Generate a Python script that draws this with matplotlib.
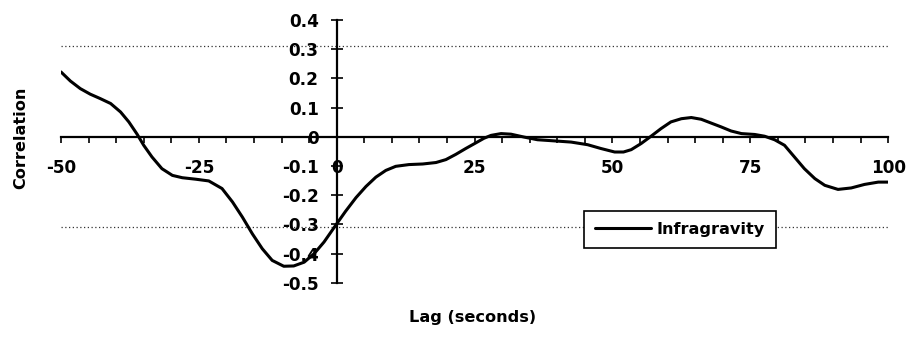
import numpy as np
import matplotlib.pyplot as plt
from matplotlib.ticker import MultipleLocator

plt.rcParams['axes.unicode_minus'] = False

# lag (s) and correlation
lag = [-50, -48.3, -46.5, -44.7, -42.9, -41.0, -39.2, -37.7, -36.2, -35.0, -33.5,
       -31.7, -29.8, -28.0, -25.6, -23.2, -20.8, -18.9, -17.1, -15.3, -13.5, -11.7,
       -9.6, -7.8, -5.9, -4.1, -2.3, -0.2, 1.6, 3.5, 5.3, 7.1, 8.9, 10.7, 13.1,
       15.6, 18.0, 19.8, 21.6, 23.4, 25.2, 26.7, 28.0, 29.8, 31.6, 34.0, 36.4,
       39.5, 42.5, 45.5, 47.9, 50.4, 52.0, 53.4, 55.2, 57.0, 58.8, 60.6, 62.5,
       64.3, 66.1, 67.9, 69.7, 71.5, 73.4, 75.8, 77.6, 79.4, 81.2, 83.0, 84.8,
       86.7, 88.5, 90.9, 93.3, 95.7, 98.2, 100]
corr = [0.222, 0.191, 0.165, 0.146, 0.131, 0.114, 0.085, 0.051, 0.009, -0.029,
        -0.069, -0.109, -0.132, -0.140, -0.145, -0.151, -0.177, -0.223, -0.275,
        -0.332, -0.383, -0.423, -0.443, -0.442, -0.429, -0.400, -0.360, -0.303,
        -0.255, -0.208, -0.170, -0.138, -0.115, -0.101, -0.095, -0.093, -0.088,
        -0.078, -0.060, -0.040, -0.021, -0.005, 0.005, 0.011, 0.009, -0.001,
        -0.010, -0.014, -0.018, -0.027, -0.040, -0.052, -0.052, -0.044, -0.023,
        0.002, 0.028, 0.051, 0.062, 0.066, 0.060, 0.047, 0.034, 0.020, 0.011,
        0.008, 0.002, -0.010, -0.029, -0.069, -0.109, -0.143, -0.166, -0.180,
        -0.175, -0.163, -0.155, -0.155]
sig_level = 0.31
ytick_vals = [-0.5, -0.4, -0.3, -0.2, -0.1, 0, 0.1, 0.2, 0.3, 0.4]
ytick_text = ['-0.5', '-0.4', '-0.3', '-0.2', '-0.1', '0', '0.1', '0.2', '0.3', '0.4']

fig = plt.figure(figsize=(9.09, 3.38), dpi=100)
ax = fig.add_axes([0.0671, 0.163, 0.910, 0.778])

ax.plot(lag, corr, color='black', lw=2.2, label='Infragravity', zorder=3,
        solid_joinstyle='round', solid_capstyle='round')
for s in (sig_level, -sig_level):
    ax.axhline(s, color='#333333', lw=0.9, ls=(0, (1, 2)), zorder=1)

ax.set_xlim(-50, 100)
ax.set_ylim(-0.5, 0.4)

# spines crossing at zero
ax.spines['top'].set_visible(False)
ax.spines['right'].set_visible(False)
ax.spines['left'].set_position(('data', 0))
ax.spines['bottom'].set_position(('data', 0))
ax.spines['left'].set_linewidth(1.6)
ax.spines['bottom'].set_linewidth(1.6)

ax.xaxis.set_major_locator(MultipleLocator(25))
ax.xaxis.set_minor_locator(MultipleLocator(5))
ax.set_yticks(ytick_vals)
ax.set_yticklabels(ytick_text)

ax.tick_params(axis='x', which='both', direction='out', length=4, width=1.2,
               pad=12, labelsize=12.2)
ax.tick_params(axis='y', which='major', direction='inout', length=8, width=1.2,
               pad=9, labelsize=12.2)
for lbl in ax.get_xticklabels() + ax.get_yticklabels():
    lbl.set_fontweight('bold')

ax.set_xlabel('Lag (seconds)', fontsize=11.6, fontweight='bold')
ax.xaxis.set_label_coords(0.498, -0.103)
ax.set_ylabel('Correlation', fontsize=11.6, fontweight='bold')
ax.yaxis.set_label_coords(-0.040, 0.55)

leg = ax.legend(loc='center', bbox_to_anchor=(0.748, 0.203), fancybox=False,
                framealpha=1, edgecolor='black', handlelength=3.5,
                handletextpad=0.3, borderpad=0.7,
                prop={'size': 11.6, 'weight': 'bold'})
leg.get_frame().set_linewidth(1.2)

fig.savefig('out.png', dpi=100)
